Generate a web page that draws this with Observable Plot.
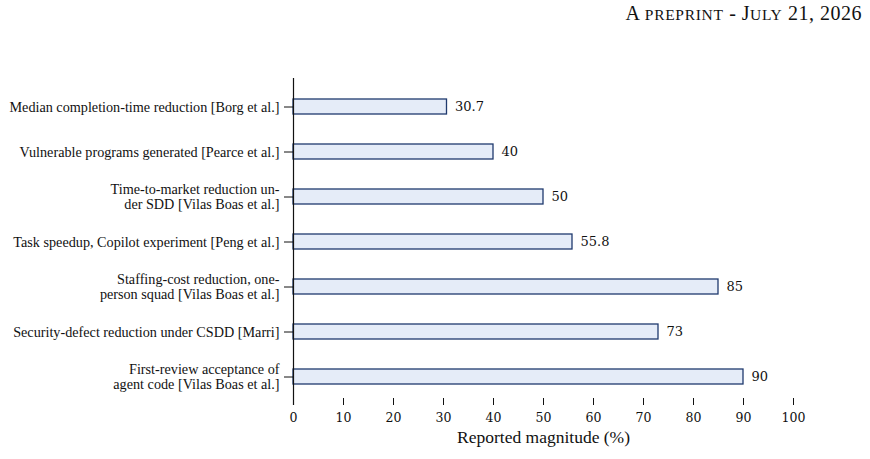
<!DOCTYPE html>
<html>
<head>
<meta charset="utf-8">
<script src="https://cdn.jsdelivr.net/npm/d3@7"></script>
<script src="https://cdn.jsdelivr.net/npm/@observablehq/plot@0.6"></script>
<style>
  html, body { margin: 0; padding: 0; background: #fff; }
  #wrap { position: relative; width: 870px; height: 459px; }
  #chart { position: absolute; left: 0; top: 0; }
  #header { position: absolute; right: 8px; top: 2px; z-index: 2; font-family: "Liberation Serif", serif; font-size: 20px; color: #111; letter-spacing: 0.5px; white-space: nowrap; }
  #header .sc { font-size: 15.5px; letter-spacing: 0.7px; }
  .lbl text { font-family: "Liberation Serif", serif; }
  .num text { font-family: "DejaVu Serif", serif; }
</style>
</head>
<body>
<div id="wrap">
  <div id="chart"></div>
  <div id="header">A <span class="sc">PREPRINT</span> - J<span class="sc">ULY</span> 21, 2026</div>
</div>
<script>
const categories = [
  "Median completion-time reduction [Borg et al.]",
  "Vulnerable programs generated [Pearce et al.]",
  "Time-to-market reduction un-\nder SDD [Vilas Boas et al.]",
  "Task speedup, Copilot experiment [Peng et al.]",
  "Staffing-cost reduction, one-\nperson squad [Vilas Boas et al.]",
  "Security-defect reduction under CSDD [Marri]",
  "First-review acceptance of\nagent code [Vilas Boas et al.]"
];
const values = [30.7, 40, 50, 55.8, 85, 73, 90];
const valueLabels = ["30.7", "40", "50", "55.8", "85", "73", "90"];
const xTicks = [0, 10, 20, 30, 40, 50, 60, 70, 80, 90, 100];

const data = categories.map((c, i) => ({category: c, value: values[i], label: valueLabels[i]}));

const serif = "'Liberation Serif', serif";
const numSerif = "'DejaVu Serif', serif";

const plot = Plot.plot({
  width: 870,
  height: 459,
  marginLeft: 293,
  marginRight: 77,
  marginTop: 78,
  marginBottom: 54,
  style: { fontFamily: serif, fontSize: "14px", color: "#111", background: "transparent" },
  x: { domain: [0, 100], ticks: xTicks, label: null },
  y: { domain: categories, paddingInner: 0.668, paddingOuter: 0.454, label: null },
  marks: [
    Plot.barX(data, { y: "category", x: "value", fill: "#e5ecf8", stroke: "#1f3a6e", strokeWidth: 1.3 }),
    Plot.text(data, { y: "category", x: "value", text: "label", textAnchor: "start", dx: 8, fontSize: 13, fill: "#111", fontFamily: numSerif, className: "num" }),
    Plot.ruleX([0], { stroke: "#111", strokeWidth: 1.2 }),
    Plot.axisY({ tickSize: 9, tickPadding: 5, stroke: "#111", lineHeight: 1.05, fontSize: 14.2, fontFamily: serif, textOverflow: null, className: "lbl" }),
    Plot.ruleY([0], { frameAnchor: "bottom", stroke: "#111", strokeWidth: 1.2 }),
    Plot.tickX(xTicks, { x: d => d, insetTop: 320, stroke: "#111" }),
    Plot.axisX({ ticks: xTicks, tickSize: 0, tickPadding: 8, fontSize: 12.5, fontFamily: numSerif, label: null, className: "num" }),
    Plot.text(["Reported magnitude (%)"], { frameAnchor: "bottom", dy: 37, fontSize: 17.5, fontFamily: serif, fill: "#111", className: "lbl" })
  ]
});
document.getElementById("chart").appendChild(plot);
</script>
</body>
</html>
